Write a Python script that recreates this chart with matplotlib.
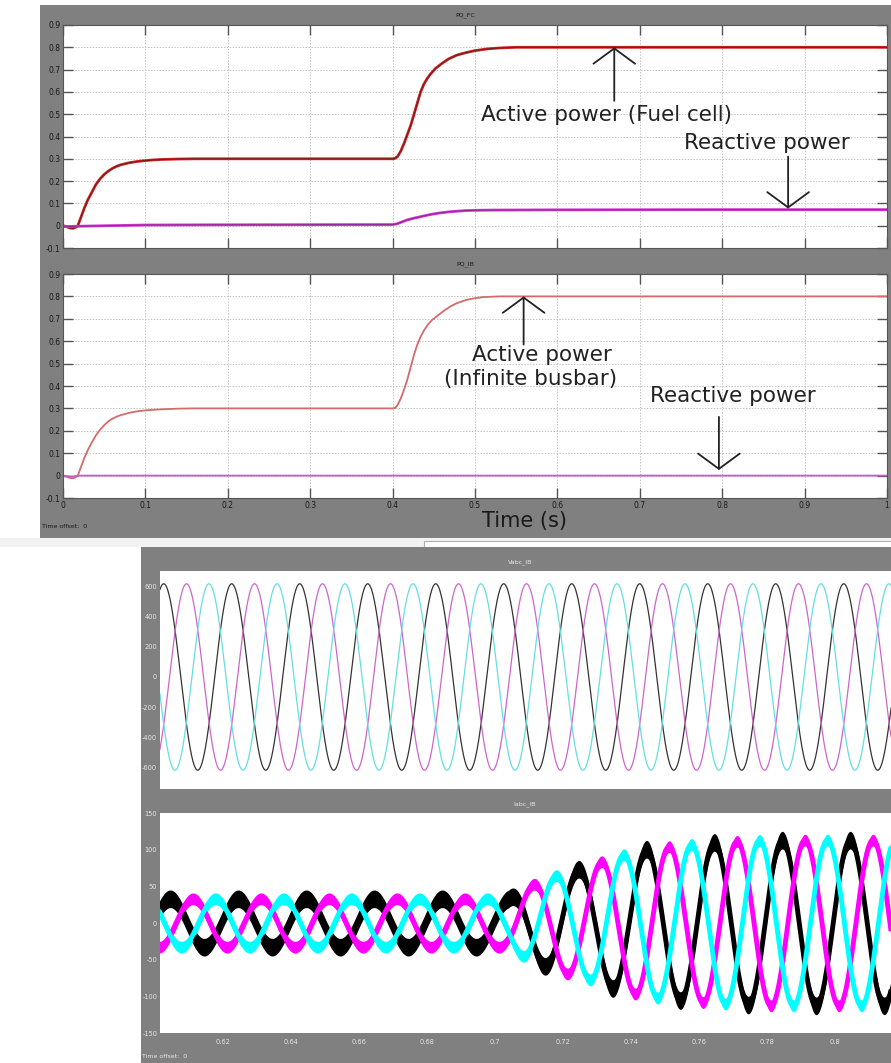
import numpy as np
import matplotlib

matplotlib.use("Agg")
import matplotlib.pyplot as plt
from matplotlib.patches import Rectangle

# --- data ------------------------------------------------------------------
# PQ_FC panel
t_pfc = [0, 0.004, 0.008, 0.012, 0.015, 0.018, 0.022, 0.026, 0.03, 0.035,
         0.04, 0.045, 0.05, 0.055, 0.06, 0.065, 0.07, 0.08, 0.09, 0.1, 0.11,
         0.12, 0.14, 0.16, 0.3, 0.4, 0.403, 0.406, 0.41, 0.414, 0.418, 0.422,
         0.426, 0.43, 0.434, 0.438, 0.442, 0.446, 0.452, 0.46, 0.468, 0.478,
         0.49, 0.5, 0.515, 0.53, 0.55, 0.7, 0.85, 1.0]
p_fc = [0, -0.004, -0.01, -0.012, -0.008, 0.0, 0.04, 0.08, 0.115, 0.15,
        0.185, 0.21, 0.23, 0.245, 0.257, 0.266, 0.273, 0.282, 0.288, 0.292,
        0.295, 0.297, 0.299, 0.3, 0.3, 0.3, 0.302, 0.31, 0.335, 0.37, 0.41,
        0.45, 0.5, 0.55, 0.6, 0.635, 0.66, 0.68, 0.705, 0.728, 0.748, 0.765,
        0.777, 0.785, 0.793, 0.797, 0.8, 0.8, 0.8, 0.8]
t_qfc = [0, 0.01, 0.1, 0.2, 0.4, 0.405, 0.41, 0.417, 0.425, 0.437, 0.447,
         0.457, 0.468, 0.478, 0.49, 0.5, 0.52, 0.6, 0.8, 1.0]
q_fc = [-0.004, -0.003, 0.003, 0.004, 0.005, 0.008, 0.015, 0.025, 0.033,
        0.043, 0.051, 0.057, 0.062, 0.065, 0.068, 0.069, 0.07, 0.071, 0.072,
        0.072]

# PQ_IB panel
t_pib = [0, 0.004, 0.008, 0.012, 0.015, 0.018, 0.022, 0.026, 0.03, 0.035,
         0.04, 0.045, 0.05, 0.055, 0.06, 0.065, 0.07, 0.08, 0.09, 0.1, 0.11,
         0.12, 0.14, 0.16, 0.3, 0.4, 0.403, 0.406, 0.41, 0.414, 0.418, 0.422,
         0.426, 0.43, 0.434, 0.438, 0.443, 0.448, 0.454, 0.462, 0.47, 0.478,
         0.49, 0.5, 0.51, 0.53, 0.7, 1.0]
p_ib = [0, -0.004, -0.01, -0.012, -0.008, 0.0, 0.04, 0.08, 0.113, 0.148,
        0.18, 0.205, 0.225, 0.242, 0.254, 0.263, 0.27, 0.28, 0.287, 0.291,
        0.294, 0.296, 0.299, 0.3, 0.3, 0.3, 0.302, 0.315, 0.345, 0.385, 0.43,
        0.485, 0.54, 0.585, 0.62, 0.648, 0.675, 0.695, 0.712, 0.735, 0.755,
        0.77, 0.785, 0.792, 0.797, 0.8, 0.8, 0.8]
t_qib = [0, 0.01, 0.02, 0.1, 1.0]
q_ib = [0, -0.005, 0, 0, 0]

# Vabc_IB / Iabc_IB: 50 Hz three-phase, peak times of each phase (s)
freq = 50
v_amp = 620
v_peak = [0.6026, 0.6093, 0.6159]   # black, magenta, cyan
i_peak = [0.6045, 0.6112, 0.6178]
# current amplitude envelope (A)
env_t = [0.6, 0.704, 0.709, 0.714, 0.72, 0.727, 0.735, 0.745, 0.755, 0.765,
         0.78, 0.82]
env_a = [33, 33, 48, 58, 68, 76, 90, 101, 106, 110, 113, 113]
i_ripple = [12, 8, 8]  # half width of the switching ripple band

pq_xticks = [0, 0.1, 0.2, 0.3, 0.4, 0.5, 0.6, 0.7, 0.8, 0.9, 1]
pq_xlabels = ["0", "0.1", "0.2", "0.3", "0.4", "0.5", "0.6", "0.7", "0.8", "0.9", "1"]
pq_yticks = [-0.1, 0, 0.1, 0.2, 0.3, 0.4, 0.5, 0.6, 0.7, 0.8, 0.9]
pq_ylabels = ["-0.1", "0", "0.1", "0.2", "0.3", "0.4", "0.5", "0.6", "0.7", "0.8", "0.9"]
vi_xticks = [0.62, 0.64, 0.66, 0.68, 0.7, 0.72, 0.74, 0.76, 0.78, 0.8]
vi_xlabels = ["0.62", "0.64", "0.66", "0.68", "0.7", "0.72", "0.74", "0.76", "0.78", "0.8"]
v_yticks = [-600, -400, -200, 0, 200, 400, 600]
i_yticks = [-150, -100, -50, 0, 50, 100, 150]

phase_cols_v = ["#333333", "#cc66cc", "#66dede"]
phase_cols_i = ["#000000", "#ff00ff", "#00ffff"]

# --- figure -----------------------------------------------------------------
W, H = 891, 1063
fig = plt.figure(figsize=(W / 100, H / 100), dpi=100)
fig.patch.set_facecolor("white")


def box(l, t, r, b):
    return [l / W, 1 - b / H, (r - l) / W, (b - t) / H]


def rect(l, t, r, b, **kw):
    fig.patches.append(Rectangle((l / W, 1 - b / H), (r - l) / W, (b - t) / H,
                                 transform=fig.transFigure, zorder=-10, **kw))


def ftext(x, y, s, **kw):
    fig.text(x / W, 1 - y / H, s, **kw)


gray = "#808080"
rect(40, 5, 891, 538, facecolor=gray, edgecolor="none")
rect(0, 538, 891, 547, facecolor="#f2f2f2", edgecolor="none")
rect(424, 541, 891, 549, facecolor="white", edgecolor="#b0b0b0", lw=0.8)
rect(141, 547, 891, 1063, facecolor=gray, edgecolor="none")

dark = "#1a1a1a"
light = "#e6e6e6"


def pq_axes(pos):
    ax = fig.add_axes(pos)
    ax.set_xlim(0, 1)
    ax.set_ylim(-0.1, 0.9)
    ax.set_xticks(pq_xticks)
    ax.set_yticks(pq_yticks)
    ax.set_yticklabels(pq_ylabels)
    ax.grid(True, color="#c4c4c4", linestyle=(0, (1.5, 1.5)), lw=0.7)
    ax.tick_params(direction="in", length=7, width=1, color="#555555",
                   top=True, right=True, labelsize=5.5, labelcolor=dark, pad=2)
    for s in ax.spines.values():
        s.set_color("#555555")
    return ax


ax1 = pq_axes(box(63, 25, 887, 248))
ax1.set_xticklabels([])
ax1.plot(t_pfc, p_fc, color="#cc2222", lw=2)
ax1.plot(t_pfc, p_fc, color="#3a1a1a", lw=0.6, alpha=0.7)
ax1.plot(t_qfc, q_fc, color="#cc33cc", lw=2)
ax1.plot(t_qfc, q_fc, color="#3a1a3a", lw=0.5, alpha=0.5)
ftext(465, 15, "PQ_FC", fontsize=4.5, color=dark, ha="center", va="center")

ax2 = pq_axes(box(63, 274, 887, 498))
ax2.set_xticklabels(pq_xlabels)
ax2.plot(t_pib, p_ib, color="#d46a6a", lw=1.3)
ax2.plot(t_qib, q_ib, color="#c060c0", lw=1.3)
ftext(465, 264, "PQ_IB", fontsize=4.5, color=dark, ha="center", va="center")
ftext(42, 527, "Time offset:  0", fontsize=4.5, color=dark, ha="left", va="center")

afont = dict(family="DejaVu Sans", fontsize=15.5, color="#222222",
             ha="center", va="center")
arrow = dict(arrowstyle="->,head_length=1.1,head_width=1.5", lw=1.3,
             color="#222222", mutation_scale=10, shrinkA=0, shrinkB=0)

ax1.annotate("", xy=(0.669, 0.80), xytext=(0.669, 0.56), arrowprops=arrow)
ax1.text(0.66, 0.497, "Active power (Fuel cell)", **afont)
ax1.annotate("", xy=(0.880, 0.077), xytext=(0.880, 0.31), arrowprops=arrow)
ax1.text(0.854, 0.373, "Reactive power", **afont)

ax2.annotate("", xy=(0.559, 0.80), xytext=(0.559, 0.585), arrowprops=arrow)
ax2.text(0.581, 0.538, "Active power", **afont)
ax2.text(0.568, 0.433, "(Infinite busbar)", **afont)
ax2.annotate("", xy=(0.796, 0.025), xytext=(0.796, 0.262), arrowprops=arrow)
ax2.text(0.813, 0.357, "Reactive power", **afont)

ftext(525, 521, "Time (s)", family="DejaVu Sans", fontsize=15, color="#1a1a1a",
      ha="center", va="center")

# --- Vabc / Iabc ------------------------------------------------------------
t = np.linspace(0.6, 0.82, 6000)
xlim = (0.6015, 0.8165)


def vi_axes(pos, ylim, yticks):
    ax = fig.add_axes(pos)
    ax.set_xlim(*xlim)
    ax.set_ylim(*ylim)
    ax.set_xticks(vi_xticks)
    ax.set_yticks(yticks)
    ax.set_yticklabels([str(v) for v in yticks])
    ax.tick_params(length=0, labelsize=4.8, labelcolor=light, pad=2)
    for s in ax.spines.values():
        s.set_visible(False)
    return ax


ax3 = vi_axes(box(160, 571, 891, 789), (-745, 705), v_yticks)
ax3.set_xticklabels([])
for pk, c in zip(v_peak, phase_cols_v):
    ax3.plot(t, v_amp * np.cos(2 * np.pi * freq * (t - pk)), color=c, lw=0.9)
ftext(520, 562, "Vabc_IB", fontsize=4.5, color=light, ha="center", va="center")

ax4 = vi_axes(box(160, 813, 891, 1033), (-150, 150), i_yticks)
ax4.set_xticklabels(vi_xlabels)
ax4.tick_params(axis="x", pad=4)
amp = np.interp(t, env_t, env_a)
for pk, c, w in zip(i_peak, phase_cols_i, i_ripple):
    core = amp * np.cos(2 * np.pi * freq * (t - pk))
    ax4.fill_between(t, core - w, core + w, color=c, lw=0)
    ax4.plot(t, core, color=c, lw=3.5, solid_capstyle="butt")
ftext(525, 804, "Iabc_IB", fontsize=4.5, color=light, ha="center", va="center")
ftext(142, 1057, "Time offset:  0", fontsize=4.5, color=light, ha="left", va="center")

fig.savefig("out.png", dpi=100)
